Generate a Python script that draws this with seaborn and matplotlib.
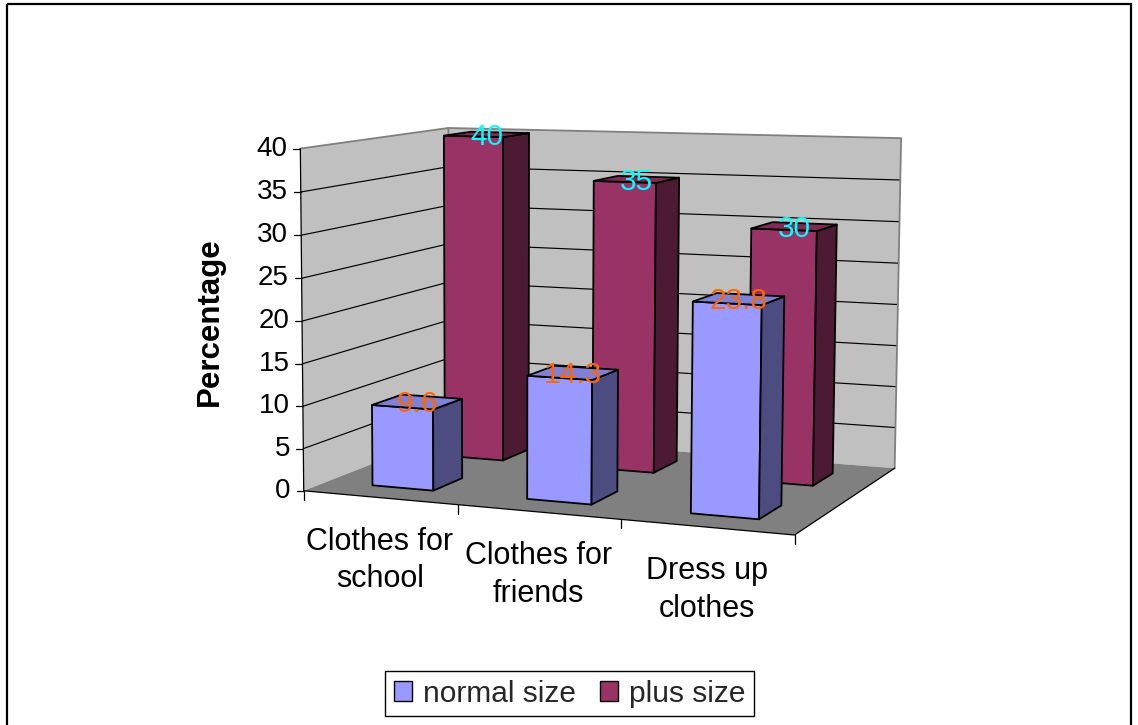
import numpy as np
import matplotlib
matplotlib.use("Agg")
import matplotlib.pyplot as plt
from matplotlib.patches import Polygon, Rectangle, Patch
import seaborn as sns

# ---- data -------------------------------------------------------------
categories = ["Clothes for\nschool", "Clothes for\nfriends", "Dress up\nclothes"]
series_names = ["normal size", "plus size"]
normal_size = [9.6, 14.3, 23.8]
plus_size = [40, 35, 30]
y_ticks = [0, 5, 10, 15, 20, 25, 30, 35, 40]

# ---- style ------------------------------------------------------------
sns.set_theme(style="white")
plt.rcParams["font.family"] = ["Liberation Sans", "DejaVu Sans"]

palette = sns.color_palette(["#9999FF", "#993366"])
top_colors = ["#8080D5", "#802B55"]
side_colors = ["#4C4C80", "#4D1A33"]
label_colors = ["#FF6600", "#00FFFF"]
WALL = "#C0C0C0"
FLOOR = "#808080"
EDGE = "#808080"

n_cat = len(categories)
n_ser = len(series_names)
y_max = y_ticks[-1]

# ---- perspective camera for the 3-D plot box ----------------------------
# world coordinates: X = category units, Y = value units, Z = series slots
# image coordinates: pixels of the output figure
anchor_world = np.array([
    (0, 0, 0), (0, 40, 0), (0, 40, 2), (3, 40, 2), (3, 0, 2), (3, 0, 0),
    (1, 0, 0), (2, 0, 0), (0, 10, 0), (0, 20, 0), (0, 30, 0),
    (3, 5, 2), (3, 35, 2),
], float)
anchor_pix = np.array([
    (305, 492), (300, 148), (448, 127), (901, 139), (895, 468), (797, 534),
    (456, 505), (618, 519), (304, 407), (302.5, 321), (301.5, 235),
    (895.5, 427), (900.5, 181),
], float)


def fit_camera(world, pix):
    wc = world.mean(0)
    ws = 1.0 / world.std(0)
    pc = pix.mean(0)
    ps = 1.0 / pix.std()
    Tw = np.diag([*ws, 1.0])
    Tw[:3, 3] = -ws * wc
    Tp = np.diag([ps, ps, 1.0])
    Tp[:2, 2] = -ps * pc
    wn = (Tw @ np.c_[world, np.ones(len(world))].T).T
    pn = (Tp @ np.c_[pix, np.ones(len(pix))].T).T
    rows = []
    for Xh, (u, v, _) in zip(wn, pn):
        rows.append(np.r_[Xh, np.zeros(4), -u * Xh])
        rows.append(np.r_[np.zeros(4), Xh, -v * Xh])
    _, _, vt = np.linalg.svd(np.array(rows))
    P = vt[-1].reshape(3, 4)
    return np.linalg.inv(Tp) @ P @ Tw


CAM = fit_camera(anchor_world, anchor_pix)


def proj(pts):
    pts = np.atleast_2d(np.asarray(pts, float))
    h = (CAM @ np.c_[pts, np.ones(len(pts))].T).T
    return h[:, :2] / h[:, 2:3]


# ---- figure -----------------------------------------------------------
fig = plt.figure(figsize=(11.38, 7.25), dpi=100)
ax = fig.add_axes([0, 0, 1, 1])
ax.set_xlim(0, 1138)
ax.set_ylim(725, 0)
ax.axis("off")

# chart border
ax.add_patch(Rectangle((7, 4), 1124, 730, fill=False, edgecolor="black",
                       lw=1.6, zorder=0))

X1, Z1 = n_cat, n_ser


def face(corners, **kw):
    ax.add_patch(Polygon(proj(corners), closed=True, **kw))


# walls and floor
face([(0, 0, 0), (0, y_max, 0), (0, y_max, Z1), (0, 0, Z1)],
     facecolor=WALL, edgecolor="none", zorder=1)
face([(0, 0, Z1), (0, y_max, Z1), (X1, y_max, Z1), (X1, 0, Z1)],
     facecolor=WALL, edgecolor="none", zorder=1)
face([(0, 0, 0), (X1, 0, 0), (X1, 0, Z1), (0, 0, Z1)],
     facecolor=FLOOR, edgecolor="none", zorder=1)

# gridlines on the walls
for yv in y_ticks[1:-1]:
    pts = proj([(0, yv, 0), (0, yv, Z1), (X1, yv, Z1)])
    ax.plot(pts[:, 0], pts[:, 1], color="black", lw=0.85, zorder=2)

# wall outlines
for seg in ([(0, y_max, 0), (0, y_max, Z1), (X1, y_max, Z1), (X1, 0, Z1)],
            [(0, 0, Z1), (0, y_max, Z1)]):
    pts = proj(seg)
    ax.plot(pts[:, 0], pts[:, 1], color=EDGE, lw=1.3, zorder=2)
pts = proj([(0, 0, 0), (X1, 0, 0), (X1, 0, Z1)])
ax.plot(pts[:, 0], pts[:, 1], color="black", lw=0.9, zorder=2)

# value axis
pts = proj([(0, 0, 0), (0, y_max, 0)])
ax.plot(pts[:, 0], pts[:, 1], color="black", lw=0.9, zorder=3)
for yv in y_ticks:
    (px, py), = proj([(0, yv, 0)])
    ax.plot([px - 7, px], [py, py], color="black", lw=0.9, zorder=3)
    ax.text(px - 13, py, f"{yv}", ha="right", va="center", fontsize=20,
            color="black", zorder=3)

# category ticks and labels
for i in range(n_cat + 1):
    (px, py), = proj([(i, 0, 0)])
    ax.plot([px, px], [py, py + 9], color="black", lw=0.9, zorder=3)
for i, cat in enumerate(categories):
    (px, py), = proj([(i + 0.5, 0, 0)])
    ax.text(px, py + 29, cat, ha="center", va="top", fontsize=22,
            linespacing=1.33, color="black", zorder=3)

ax.text(210, 322, "Percentage", rotation=90, ha="center", va="center",
        fontsize=22.5, fontweight="bold", color="black")

# bars: back row first, then the front row
bar_w = 0.4
series_values = [normal_size, plus_size]
for s in reversed(range(n_ser)):
    z0, z1 = s + 0.3, s + 0.7
    for i, v in enumerate(series_values[s]):
        x0, x1 = i + 0.5 - bar_w / 2, i + 0.5 + bar_w / 2
        kw = dict(edgecolor="black", lw=1.3, joinstyle="round", zorder=5 + (n_ser - s))
        face([(x0, 0, z0), (x1, 0, z0), (x1, v, z0), (x0, v, z0)],
             facecolor=palette[s], **kw)
        face([(x1, 0, z0), (x1, 0, z1), (x1, v, z1), (x1, v, z0)],
             facecolor=side_colors[s], **kw)
        face([(x0, v, z0), (x1, v, z0), (x1, v, z1), (x0, v, z1)],
             facecolor=top_colors[s], **kw)

# value labels at the centre of each bar top
for s in range(n_ser):
    for i, v in enumerate(series_values[s]):
        (px, py), = proj([(i + 0.5, v, s + 0.5)])
        ax.text(px, py + 10.5, f"{v:g}", ha="center", va="baseline",
                fontsize=21.4, color=label_colors[s], zorder=10)

# legend
handles = [Patch(facecolor=palette[s], edgecolor="black", lw=1.0)
           for s in range(n_ser)]
leg = ax.legend(handles, series_names, loc="center",
                bbox_to_anchor=(569.5, 693.5), bbox_transform=ax.transData,
                ncol=2, frameon=True, fancybox=False, edgecolor="black",
                framealpha=1, fontsize=21.5, handlelength=0.62,
                handleheight=0.62, handletextpad=0.35, columnspacing=0.8,
                borderpad=0.3, borderaxespad=0)
leg.get_frame().set_linewidth(1.0)

fig.savefig("out.png", dpi=100)
